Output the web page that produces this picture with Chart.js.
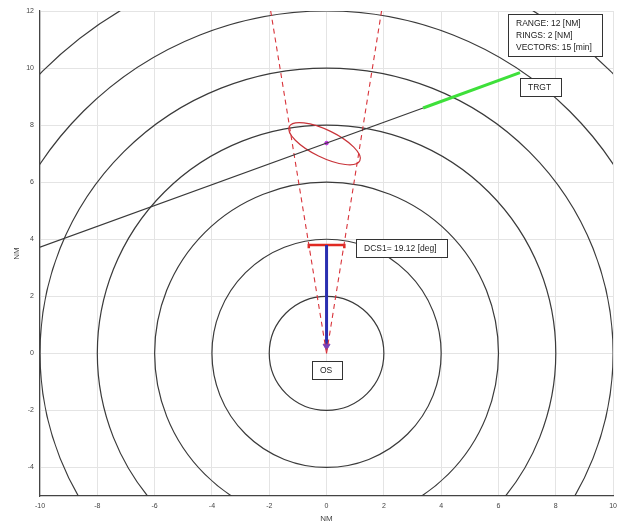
<!DOCTYPE html>
<html>
<head>
<meta charset="utf-8">
<script src="https://cdn.jsdelivr.net/npm/chart.js@4/dist/chart.umd.min.js"></script>
<style>
  html, body { margin: 0; padding: 0; background: #fff; }
  #wrap { width: 623px; height: 524px; }
</style>
</head>
<body>
<div id="wrap"><canvas id="plot"></canvas></div>
<script>
// axis ticks (NM)
const xTicks = [-10, -8, -6, -4, -2, 0, 2, 4, 6, 8, 10];
const yTicks = [-4, -2, 0, 2, 4, 6, 8, 10, 12];

// range rings around own ship
const ringRadii = [2, 4, 6, 8, 10, 12, 14];

// bearing wedge edges
const wedgeLeft = [{ x: 0, y: 0 }, { x: -1.95, y: 12 }];
const wedgeRight = [{ x: 0, y: 0 }, { x: 1.92, y: 12 }];

// target track and its 15 min vector
const trackLine = [{ x: -10, y: 3.72 }, { x: 3.37, y: 8.6 }];
const targetVector = [{ x: 3.37, y: 8.6 }, { x: 6.75, y: 9.84 }];

// own ship vector and DCS bar
const ownVector = [{ x: 0, y: 3.8 }, { x: 0, y: 0.25 }];
const dcsBar = [{ x: -0.62, y: 3.68 }, { x: -0.62, y: 3.8 }, { x: 0.62, y: 3.8 }, { x: 0.62, y: 3.68 }];

// uncertainty ellipse: center, semi axes, tilt (deg)
const ellCenter = { x: -0.07, y: 7.35 };
const ellAxes = [1.37, 0.48];
const ellTilt = -26;
const ellMark = [{ x: 0, y: 7.37 }];

// text boxes: lines, anchor (top-left, data coords)
const labels = [
  { lines: ["RANGE: 12 [NM]", "RINGS: 2 [NM]", "VECTORS: 15 [min]"], x: 6.33, y: 11.89 },
  { lines: ["TRGT"], x: 6.75, y: 9.65 },
  { lines: ["DCS1= 19.12 [deg]"], x: 1.04, y: 4.0 },
  { lines: ["OS"], x: -0.52, y: -0.28 }
];

const ringsPlugin = {
  id: "rings",
  beforeDatasetsDraw(chart) {
    const { ctx, chartArea, scales } = chart;
    const sx = scales.x, sy = scales.y;
    const cx = sx.getPixelForValue(0), cy = sy.getPixelForValue(0);
    const kx = sx.getPixelForValue(1) - cx, ky = cy - sy.getPixelForValue(1);
    ctx.save();
    ctx.beginPath();
    ctx.rect(chartArea.left, chartArea.top, chartArea.right - chartArea.left, chartArea.bottom - chartArea.top);
    ctx.clip();
    ctx.strokeStyle = "#3a3a3a";
    ctx.lineWidth = 1.2;
    ringRadii.forEach(r => {
      ctx.beginPath();
      ctx.ellipse(cx, cy, r * kx, r * ky, 0, 0, Math.PI * 2);
      ctx.stroke();
    });
    // uncertainty ellipse
    ctx.save();
    ctx.translate(sx.getPixelForValue(ellCenter.x), sy.getPixelForValue(ellCenter.y));
    ctx.scale(kx, -ky);
    ctx.rotate(ellTilt * Math.PI / 180);
    ctx.beginPath();
    ctx.ellipse(0, 0, ellAxes[0], ellAxes[1], 0, 0, Math.PI * 2);
    ctx.restore();
    ctx.strokeStyle = "#c8343a";
    ctx.lineWidth = 1.2;
    ctx.stroke();
    ctx.restore();
  },
  afterDatasetsDraw(chart) {
    const { ctx, scales } = chart;
    ctx.save();
    ctx.font = "8.5px 'Liberation Sans', Arial, sans-serif";
    ctx.textBaseline = "top";
    labels.forEach(l => {
      const px = Math.round(scales.x.getPixelForValue(l.x)), py = Math.round(scales.y.getPixelForValue(l.y));
      const w = Math.round(Math.max(...l.lines.map(t => ctx.measureText(t).width))) + 18;
      const h = l.lines.length * 12 + 6;
      ctx.fillStyle = "#fff";
      ctx.fillRect(px, py, w, h);
      ctx.strokeStyle = "#333";
      ctx.lineWidth = 1;
      ctx.strokeRect(px + 0.5, py + 0.5, w, h);
      ctx.fillStyle = "#222";
      l.lines.forEach((t, i) => ctx.fillText(t, px + 8, py + 5 + i * 12));
    });
    ctx.restore();
  }
};

const lineSet = (data, color, width, extra) => Object.assign({
  data, showLine: true, borderColor: color, borderWidth: width,
  pointRadius: 0, fill: false, tension: 0
}, extra || {});

new Chart(document.getElementById("plot"), {
  type: "scatter",
  data: {
    datasets: [
      lineSet(trackLine, "#3a3a3a", 1.2),
      lineSet(wedgeLeft, "#d8333a", 1.1, { borderDash: [5, 4] }),
      lineSet(wedgeRight, "#d8333a", 1.1, { borderDash: [5, 4] }),
      lineSet(targetVector, "#3ee03a", 3),
      lineSet(ownVector, "#2a2fb0", 3, {
        pointRadius: [0, 4], pointStyle: "triangle", rotation: 180,
        pointBackgroundColor: "#7a3fb8", pointBorderColor: "#7a3fb8", pointBorderWidth: 1
      }),
      lineSet(dcsBar, "#e02a22", 2.5),
      { data: ellMark, pointRadius: 1.8, pointBackgroundColor: "#c030e0", pointBorderColor: "#c030e0", showLine: false }
    ]
  },
  options: {
    responsive: true,
    maintainAspectRatio: false,
    animation: false,
    layout: { padding: { top: 11, right: 8, left: 12, bottom: 0 } },
    plugins: { legend: { display: false }, tooltip: { enabled: false } },
    scales: {
      x: {
        type: "linear", min: -10, max: 10,
        afterBuildTicks: s => { s.ticks = xTicks.map(v => ({ value: v })); },
        afterFit: s => { s.height = 28; },
        grid: { color: "#e4e4e4", drawTicks: false },
        border: { color: "#444", width: 1.2 },
        ticks: { color: "#444", font: { size: 7, family: "'Liberation Sans', Arial" }, padding: 6, maxRotation: 0 },
        title: { display: true, text: "NM", color: "#444", font: { size: 8, family: "'Liberation Sans', Arial" }, padding: { top: 0, bottom: 0 } }
      },
      y: {
        type: "linear", min: -5, max: 12,
        afterBuildTicks: s => { s.ticks = yTicks.map(v => ({ value: v })); },
        afterFit: s => { s.width = 28; },
        grid: { color: "#e4e4e4", drawTicks: false },
        border: { color: "#444", width: 1.2 },
        ticks: { color: "#444", font: { size: 7, family: "'Liberation Sans', Arial" }, padding: 6 },
        title: { display: true, text: "NM", color: "#444", font: { size: 8, family: "'Liberation Sans', Arial" }, padding: { top: 0, bottom: 2 } }
      }
    }
  },
  plugins: [ringsPlugin]
});
</script>
</body>
</html>
